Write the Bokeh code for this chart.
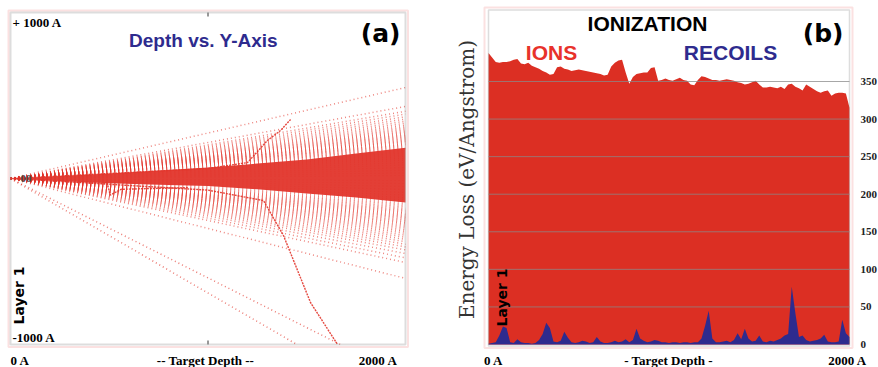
import math
from bokeh.plotting import figure
from bokeh.models import Label, LabelSet, ColumnDataSource, BoxAnnotation, Range1d
from bokeh.layouts import row
from bokeh.embed import file_html
from bokeh.resources import INLINE
from bokeh.core.properties import value

# ---------------- data: panel (a) Depth vs. Y-Axis ----------------
ray_end_y = [548, 434, 405, 388, 372, 358, 345, 333, 322, 312, 303, 295, 287, 280, 273,
             266, 260, 254, 248, 242, 236, 230, 225, 220, 214, 208, 203, 198, 192, 186,
             180, 174, 168, 160, 152, 143, 133, 122, 110, 96, 82, 66, 50, 34, 18,
             -602, -506, -478, -452, -430, -412, -396, -381, -367, -354, -342, -330,
             -319, -309, -299, -290, -281, -272, -264, -256, -248, -240, -233, -226,
             -219, -212, -205, -198, -191, -184, -176, -168, -159, -150, -140, -128,
             -115, -100, -84, -66, -48, -30, -12]
steep_end_depth = [1450, 1670]
steep_end_y = [-1000, -1000]
core_depth = [0, 250, 500, 750, 1000, 1250, 1500, 1750, 2000]
core_upper = [0, 15, 30, 48, 66, 90, 115, 150, 185]
core_lower = [0, -15, -28, -38, -45, -65, -90, -115, -145]
track_up_x = [0, 1000, 1200, 1301, 1367, 1418]
track_up_y = [0, 60, 96, 229, 289, 355]
track_down_x = [0, 1000, 1281, 1382, 1519, 1656]
track_down_y = [0, -70, -133, -343, -747, -1000]
track_kink_x = [0, 490, 505, 560, 720, 900]
track_kink_y = [0, -30, -100, -65, -60, -55]
depth_a_limits = [0, 2000]
y_a_limits = [-1000, 1000]
mid_tick = [1000]

# ---------------- data: panel (b) Ionization ----------------
depth_b = list(range(0, 2001, 20))
ions = [388, 382, 376, 375, 376, 376, 377, 379, 380, 374,
        373, 375, 371, 369, 367, 364, 362, 359, 360, 369,
        370, 367, 366, 364, 365, 366, 365, 364, 363, 362,
        361, 360, 358, 359, 370, 375, 378, 379, 362, 347,
        356, 360, 361, 362, 362, 368, 369, 351, 352, 354,
        352, 351, 353, 355, 352, 351, 346, 345, 352, 357,
        356, 354, 352, 352, 351, 352, 353, 352, 351, 349,
        348, 346, 347, 349, 351, 346, 342, 342, 343, 342,
        341, 343, 340, 346, 347, 343, 341, 338, 346, 343,
        340, 337, 335, 337, 338, 331, 334, 335, 335, 334,
        315]
recoils = [1, 2, 3, 12, 24, 22, 3, 2, 7, 3,
           2, 2, 1, 2, 6, 14, 29, 22, 4, 3,
           5, 17, 9, 3, 2, 3, 5, 4, 2, 3,
           10, 4, 2, 2, 3, 5, 3, 4, 7, 3,
           6, 21, 8, 5, 3, 4, 6, 5, 3, 3,
           2, 3, 3, 2, 3, 3, 2, 3, 3, 8,
           25, 45, 8, 3, 3, 4, 5, 3, 6, 15,
           7, 21, 8, 4, 5, 12, 4, 3, 5, 4,
           6, 8, 12, 14, 77, 42, 10, 12, 6, 4,
           5, 6, 8, 13, 4, 3, 3, 4, 33, 15,
           10]
y_ticks_b = [0, 50, 100, 150, 200, 250, 300, 350]

# ---------------- styles ----------------
PINK = "#f29a9a"
GRAY = "#8e8e8e"
RED_TRK = "#e2352b"
RED_ION = "#dc2f23"
BLUE = "#2e2b8e"
SERIF = "Liberation Serif"
SANS = "Liberation Sans"
HEAVY = "DejaVu Sans"


def add_text(p, x, y, text, size, font, color="black", style="bold", align="left",
             baseline="middle", angle=0.0, x_units="screen", y_units="screen"):
    p.add_layout(Label(x=x, y=y, x_units=x_units, y_units=y_units, text=text,
                       text_font=font, text_font_size=f"{size}px", text_font_style=style,
                       text_color=color, text_align=align, text_baseline=baseline,
                       angle=angle))


def make_fig(W, H, box_px, xlim, ylim):
    """box_px = (left, top, right, bottom) canvas pixels of the data box (xlim x ylim)."""
    l, t, r, b = box_px
    sx = (xlim[1] - xlim[0]) / (r - l)
    sy = (ylim[1] - ylim[0]) / (b - t)
    x0 = xlim[0] - l * sx
    y1 = ylim[1] + t * sy
    p = figure(width=W, height=H, output_backend="svg", toolbar_location=None,
               x_range=Range1d(x0, x0 + W * sx), y_range=Range1d(y1 - H * sy, y1),
               x_axis_location=None, y_axis_location=None,
               min_border_left=0, min_border_right=0, min_border_top=0, min_border_bottom=0)
    p.grid.visible = False
    p.outline_line_color = None
    p.background_fill_color = "white"
    p.border_fill_color = "white"
    to_x = lambda px: x0 + px * sx
    to_y = lambda py: y1 - py * sy
    return p, to_x, to_y, sx, sy


H = 367
# ================= panel (a) =================
LW = 438
pA, axA, ayA, sxA, syA = make_fig(LW, H, (10, 12, 405, 344), depth_a_limits, y_a_limits)
pA.add_layout(BoxAnnotation(left=axA(8), right=axA(407.5), top=ayA(10), bottom=ayA(346.5),
                            fill_alpha=0, line_color=PINK, line_width=2))

n = len(ray_end_y)
pA.segment(x0=[depth_a_limits[0]] * n, y0=[0] * n, x1=[depth_a_limits[1]] * n, y1=ray_end_y,
           line_color=RED_TRK, line_width=1.5, line_dash="1 3", line_alpha=0.6)
pA.segment(x0=[0] * len(steep_end_depth), y0=[0] * len(steep_end_depth),
           x1=steep_end_depth, y1=steep_end_y,
           line_color=RED_TRK, line_width=1.5, line_dash="1 3", line_alpha=0.65)
pA.varea(x=core_depth, y1=core_lower, y2=core_upper, fill_color=RED_TRK, fill_alpha=0.95)
for tx, ty in [(track_up_x, track_up_y), (track_down_x, track_down_y), (track_kink_x, track_kink_y)]:
    pA.line(tx, ty, line_color=RED_TRK, line_width=1.4, line_dash="2 1", line_alpha=0.9)

pA.add_layout(BoxAnnotation(left=depth_a_limits[0], right=depth_a_limits[1],
                            bottom=y_a_limits[0], top=y_a_limits[1],
                            fill_alpha=0, line_color=GRAY, line_width=2))
pA.segment(x0=mid_tick * 2, x1=mid_tick * 2, y0=[y_a_limits[1], y_a_limits[0]],
           y1=[y_a_limits[1] - 4 * syA, y_a_limits[0] + 4 * syA], line_color="#333333", line_width=1)

add_text(pA, 12, 345, "+ 1000 A", 13, SERIF)
add_text(pA, 20, 0, "00", 11, SERIF, color="#4a4a4a", y_units="data")
add_text(pA, 12, 30, "-1000 A", 13, SERIF)
add_text(pA, 18, 72, "Layer 1", 14, HEAVY, align="center", angle=math.pi / 2)
add_text(pA, 203, 327, "Depth vs. Y-Axis", 19, SANS, color=BLUE, align="center")
add_text(pA, 400, 334, "(a)", 25, HEAVY, align="right")
add_text(pA, 10, 7, "0 A", 13, SERIF, baseline="alphabetic")
add_text(pA, 205, 7, "-- Target Depth --", 13, SERIF, align="center", baseline="alphabetic")
add_text(pA, 397, 7, "2000 A", 13, SERIF, align="right", baseline="alphabetic")

# ================= panel (b) =================
RW = 440
# data box: x 0..2000 at canvas px 50..411 ; y 0..350 at canvas py 344..81
pB, axB, ayB, sxB, syB = make_fig(RW, H, (50, 81, 411, 344), [0, 2000], [0, 350])
pB.add_layout(BoxAnnotation(left=axB(46), right=axB(414), top=ayB(7), bottom=ayB(347.5),
                            fill_alpha=0, line_color=PINK, line_width=2))

pB.varea(x=depth_b, y1=[0] * len(depth_b), y2=ions, fill_color=RED_ION)
ng = len(y_ticks_b) - 1
pB.segment(x0=[depth_b[0]] * ng, x1=[depth_b[-1]] * ng, y0=y_ticks_b[1:], y1=y_ticks_b[1:],
           line_color="#8a8a8a", line_width=1, line_alpha=0.75)
pB.varea(x=depth_b, y1=[0] * len(depth_b), y2=recoils, fill_color=BLUE)
pB.add_layout(BoxAnnotation(left=depth_b[0], right=depth_b[-1], bottom=ayB(345.5), top=ayB(9.5),
                            fill_alpha=0, line_color=GRAY, line_width=1.5))

tick_src = ColumnDataSource(data=dict(y=y_ticks_b, t=[str(v) for v in y_ticks_b]))
pB.add_layout(LabelSet(x=422, y="y", text="t", source=tick_src, x_units="screen",
                       text_font=value(SERIF), text_font_size="11px", text_font_style="bold",
                       text_color="#222222", text_align="left", text_baseline="middle"))

add_text(pB, 209, 344, "IONIZATION", 21, SANS, align="center")
add_text(pB, 113, 315, "IONS", 21, SANS, color="#e8322a", align="center")
add_text(pB, 292, 315, "RECOILS", 21, SANS, color=BLUE, align="center")
add_text(pB, 405, 334, "(b)", 25, HEAVY, align="right")
add_text(pB, 63, 70, "Layer 1", 14, HEAVY, align="center", angle=math.pi / 2)
add_text(pB, 28, 188, "Energy Loss (eV/Angstrom)", 20, "DejaVu Serif", color="#333333",
         style="normal", align="center", angle=math.pi / 2)
add_text(pB, 55, 7, "0 A", 13, SERIF, align="center", baseline="alphabetic")
add_text(pB, 230, 7, "- Target Depth -", 13, SERIF, align="center", baseline="alphabetic")
add_text(pB, 409, 7, "2000 A", 13, SERIF, align="center", baseline="alphabetic")

layout = row(pA, pB)
open("out.html", "w").write(file_html(layout, INLINE))
